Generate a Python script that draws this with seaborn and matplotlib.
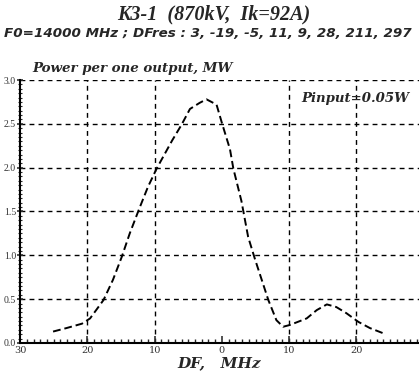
import numpy as np
import pandas as pd
import seaborn as sns
import matplotlib.pyplot as plt
from matplotlib.ticker import MultipleLocator, FixedLocator

# data
df_mhz = [-25.1, -23.1, -20.8, -19.6, -17.6, -16.2, -14.9, -13.7, -12.3, -11.0, -9.7,
          -7.4, -6.0, -4.75, -3.3, -2.3, -0.8, 0.0, 1.2, 1.7, 2.9, 3.9, 4.9, 6.9, 8.1,
          9.1, 10.1, 12.6, 14.1, 15.6, 17.0, 18.5, 20.3, 22.0, 24.0]
power_mw = [0.13, 0.17, 0.22, 0.28, 0.49, 0.72, 0.98, 1.25, 1.53, 1.78, 1.99,
            2.31, 2.49, 2.67, 2.74, 2.78, 2.72, 2.51, 2.21, 1.99, 1.62, 1.21, 0.96, 0.49, 0.26,
            0.185, 0.205, 0.28, 0.375, 0.44, 0.41, 0.34, 0.24, 0.17, 0.11]
x_ticks = [-30, -20, -10, 0, 10, 20]
x_ticklabels = ["30", "20", "10", "0", "10", "20"]
y_ticks = [0.0, 0.5, 1.0, 1.5, 2.0, 2.5, 3.0]

sns.set_style("ticks")
plt.rcParams['font.family'] = ['DejaVu Serif']

df = pd.DataFrame({"DF": df_mhz, "P": power_mw})

fig = plt.figure(figsize=(4.19, 3.74), dpi=100)
ax = fig.add_axes([0.048, 0.083, 0.952, 0.703])

sns.lineplot(data=df, x="DF", y="P", ax=ax, color="black", lw=1.4,
             linestyle=(0, (4, 2)))

ax.set_xlim(-30, 29.3)
ax.set_ylim(0, 3.0)
ax.xaxis.set_major_locator(FixedLocator(x_ticks))
ax.set_xticklabels(x_ticklabels)
ax.xaxis.set_minor_locator(MultipleLocator(1))
ax.set_yticks(y_ticks)
ax.set_yticklabels([f"{v:.1f}" for v in y_ticks], family='Liberation Serif')
ax.yaxis.set_minor_locator(MultipleLocator(0.05))

ax.tick_params(axis='x', which='major', direction='in', length=5, width=1.2,
               labelsize=7, colors='#333333', pad=2)
ax.tick_params(axis='x', which='minor', direction='in', length=3, width=1.0)
ax.tick_params(axis='y', which='major', direction='inout', length=4, width=1.2,
               labelsize=7, colors='#333333', pad=1)
ax.tick_params(axis='y', which='minor', direction='inout', length=3, width=0.8)

ax.grid(True, which='major', color='black', linestyle=(0, (3.5, 3)), lw=1.0)
for line, v in zip(ax.xaxis.get_gridlines(), x_ticks):
    if v in (-30, 0):
        line.set_visible(False)

for s in ["top", "right"]:
    ax.spines[s].set_visible(False)
for s in ["left", "bottom"]:
    ax.spines[s].set_linewidth(1.5)
    ax.spines[s].set_color("black")

ax.set_xlabel("DF,   MHz", fontsize=11, fontstyle='italic', fontweight='bold', labelpad=1)
ax.set_ylabel("")

ax.text(0.705, 0.915, "Pinput=0.05W", transform=ax.transAxes, fontsize=9.5,
        fontstyle='italic', fontweight='bold')

fig.text(0.51, 0.962, "K3-1  (870kV,  Ik=92A)", ha='center', va='center',
         fontsize=14.5, fontstyle='italic', fontweight='bold', family='Liberation Serif')
fig.text(0.01, 0.91, "F0=14000 MHz ; DFres : 3, -19, -5, 11, 9, 28, 211, 297",
         ha='left', va='center', fontsize=9.7, fontstyle='italic', fontweight='bold',
         family='DejaVu Sans')
fig.text(0.078, 0.818, "Power per one output, MW", ha='left', va='center',
         fontsize=9.6, fontstyle='italic', fontweight='bold')

fig.savefig("out.png", dpi=100)
